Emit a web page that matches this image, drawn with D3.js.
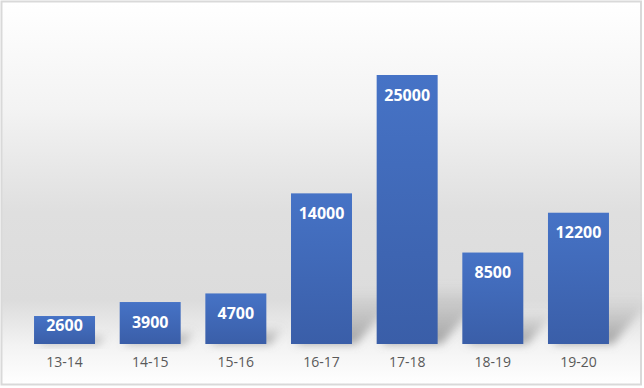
<!DOCTYPE html>
<html>
<head>
<meta charset="utf-8">
<script src="https://cdn.jsdelivr.net/npm/d3@7"></script>
<style>
  body { margin: 0; background: #fff; }
  svg { display: block; }
</style>
</head>
<body>
<div id="chart"></div>
<script>
// data
var years = ["13-14", "14-15", "15-16", "16-17", "17-18", "18-19", "19-20"];
var amounts = [2600, 3900, 4700, 14000, 25000, 8500, 12200];

var width = 644, height = 388;
var base = 344;

var svg = d3.select("#chart").append("svg")
  .attr("width", width)
  .attr("height", height);

var defs = svg.append("defs");

// background gradient (white -> grey -> white)
var bg = defs.append("linearGradient")
  .attr("id", "bg").attr("x1", 0).attr("y1", 0).attr("x2", 0).attr("y2", 1);
[[0, "#ffffff"], [0.28, "#f3f3f3"], [0.55, "#dfdfdf"], [0.78, "#dcdcdc"], [0.9, "#f3f3f3"], [1, "#ffffff"]]
  .forEach(function(s) { bg.append("stop").attr("offset", s[0]).attr("stop-color", s[1]); });

// bar gradient
var bar = defs.append("linearGradient")
  .attr("id", "bar").attr("x1", 0).attr("y1", 0).attr("x2", 0).attr("y2", 1);
bar.append("stop").attr("offset", 0).attr("stop-color", "#4673c6");
bar.append("stop").attr("offset", 1).attr("stop-color", "#3a5ea8");

// shadow fade
var sh = defs.append("linearGradient")
  .attr("id", "shfade").attr("x1", 0).attr("y1", 1).attr("x2", 0).attr("y2", 0);
sh.append("stop").attr("offset", 0).attr("stop-color", "#808080").attr("stop-opacity", 0.7);
sh.append("stop").attr("offset", 1).attr("stop-color", "#808080").attr("stop-opacity", 0);

defs.append("filter").attr("id", "blur")
  .attr("x", "-50%").attr("y", "-50%").attr("width", "200%").attr("height", "200%")
  .append("feGaussianBlur").attr("stdDeviation", 4);

svg.append("rect")
  .attr("x", 1.5).attr("y", 1.5)
  .attr("width", 639.5).attr("height", 383)
  .attr("fill", "url(#bg)")
  .attr("stroke", "#d9d9d9")
  .attr("stroke-width", 2);

var x = d3.scaleBand()
  .domain(years)
  .range([21.7, 621.3])
  .paddingInner(0.288)
  .paddingOuter(0.144);

var y = d3.scaleLinear()
  .domain([0, 25000])
  .range([base, 75]);

var data = years.map(function(d, i) { return {year: d, value: amounts[i]}; });

// shadows behind bars
svg.append("g")
  .selectAll("path")
  .data(data)
  .enter()
  .append("path")
  .attr("d", function(d) {
    var x0 = x(d.year) + 4, x1 = x(d.year) + x.bandwidth() + 4;
    var h = base - y(d.value);
    var dy = Math.min(0.35 * h, 60), dx = dy * 0.85;
    return "M" + x0 + "," + base + "L" + x1 + "," + base +
      "L" + (x1 + dx) + "," + (base - dy) + "L" + (x0 + dx) + "," + (base - dy) + "Z";
  })
  .attr("fill", "url(#shfade)")
  .attr("filter", "url(#blur)");

svg.append("g")
  .selectAll("rect")
  .data(data)
  .enter()
  .append("rect")
  .attr("x", function(d) { return x(d.year); })
  .attr("y", function(d) { return y(d.value); })
  .attr("width", x.bandwidth())
  .attr("height", function(d) { return base - y(d.value); })
  .attr("fill", "url(#bar)");

// value labels
svg.append("g")
  .selectAll("text")
  .data(data)
  .enter()
  .append("text")
  .attr("x", function(d) { return x(d.year) + x.bandwidth() / 2; })
  .attr("y", function(d) {
    var top = y(d.value), h = base - top;
    return h < 35 ? top + h / 2 - 5 : top + 20;
  })
  .attr("dy", "0.35em")
  .attr("text-anchor", "middle")
  .style("font-family", "'Open Sans', sans-serif")
  .style("font-weight", "bold")
  .style("font-size", "16px")
  .style("fill", "#ffffff")
  .text(function(d) { return d.value; });

// category axis
var axis = svg.append("g")
  .attr("transform", "translate(0," + base + ")")
  .call(d3.axisBottom(x).tickSize(0).tickPadding(13));
axis.select(".domain").remove();
axis.selectAll("text")
  .style("font-family", "'Open Sans', sans-serif")
  .style("font-size", "14px")
  .style("fill", "#595959");
</script>
</body>
</html>
